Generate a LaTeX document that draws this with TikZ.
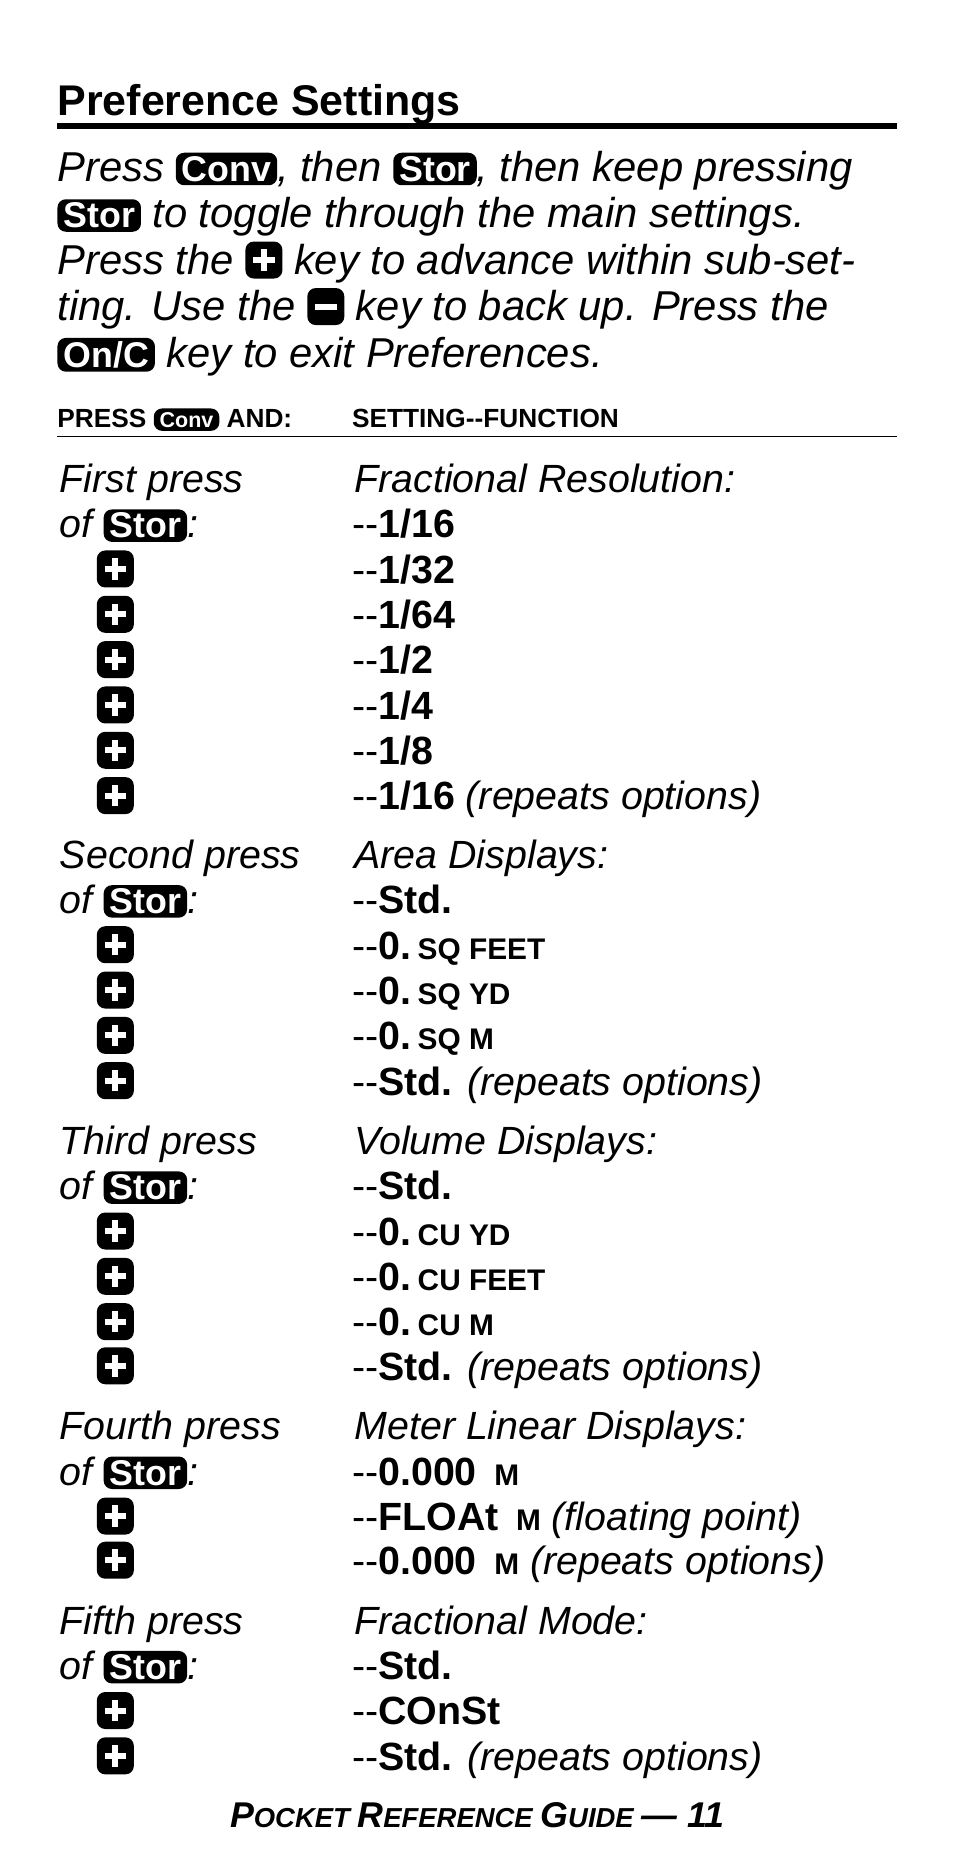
\documentclass[tikz,border=0pt]{standalone}
\usepackage{fontspec}
\setmainfont{Liberation Sans}
\usetikzlibrary{positioning}

\newcommand{\fs}[1]{\fontsize{#1}{#1}\selectfont}
% inline keys
\newcommand{\keycap}[2][30]{\tikz[baseline=(k.base)]\node[fill=black, text=white, rounded corners=7pt, inner xsep=5pt, inner ysep=3pt, font=\fs{#1}\bfseries\upshape] (k) {#2};}
\newcommand{\pluskey}{\tikz[baseline=-4pt]{\node[fill=black, rounded corners=7pt, minimum size=31pt, inner sep=0pt] (p) at (0,8pt) {};
  \draw[white, line width=5pt] ([xshift=-9pt]p.center) -- ([xshift=9pt]p.center) ([yshift=-9pt]p.center) -- ([yshift=9pt]p.center);}}
\newcommand{\minuskey}{\tikz[baseline=-4pt]{\node[fill=black, rounded corners=7pt, minimum size=31pt, inner sep=0pt] (m) at (0,8pt) {};
  \draw[white, line width=5pt] ([xshift=-9.5pt]m.center) -- ([xshift=9.5pt]m.center);}}
\newcommand{\unit}[1]{\,{\fs{25}#1}}
\newcommand{\dd}{-{}-}
\newcommand{\rep}{ {\itshape\mdseries (repeats options)}}

\begin{document}
\begin{tikzpicture}[x=1pt, y=1pt,
    txt/.style={anchor=base west, inner sep=0pt, font=\fs{33}},
    body/.style={anchor=base west, inner sep=0pt, font=\fs{35}\itshape, align=left}]
  \useasboundingbox (0,0) rectangle (800,-1561);

  % heading
  \node[anchor=base west, inner sep=0pt, font=\fs{36}\bfseries] (title) at (48,-97) {Preference Settings};
  \draw[line width=5pt] (48,-106) -- (752,-106);

  \node[body] (p1) at (48,-152) {Press \keycap{Conv}, then \keycap{Stor}, then keep pressing};
  \node[body] (p2) at (48,-191) {\keycap{Stor} to toggle through the main settings.};
  \node[body] (p3) at (48,-230) {Press the \pluskey\ key to advance within sub-set-};
  \node[body] (p4) at (48,-269) {ting. Use the \minuskey\ key to back up. Press the};
  \node[body] (p5) at (48,-308) {\keycap{On/C} key to exit Preferences.};

  \node[anchor=base west, inner sep=0pt, font=\fs{22}\bfseries] (hl) at (48,-358) {PRESS \keycap[18]{Conv} AND:};
  \node[anchor=base west, inner sep=0pt, font=\fs{22}\bfseries] (hr) at (295,-358) {SETTING\dd FUNCTION};
  \draw[line width=1.5pt] (48,-366) -- (752,-366);

  % first press
  \node[txt, font=\fs{33}\itshape] (a0) at (50,-413) {First press};
  \node[txt, font=\fs{33}\itshape] (a1) at (50,-451) {of \keycap{Stor}:};
  \foreach \i/\y in {2/-489,3/-527,4/-565,5/-603,6/-641,7/-679}
    \node[txt] (ak\i) at (81,\y) {\pluskey};
  \node[txt, font=\fs{33}\itshape] (b0) at (297,-413) {Fractional Resolution:};
  \node[txt] (b1) at (295,-451) {\dd\textbf{1/16}};
  \node[txt] (b2) at (295,-489) {\dd\textbf{1/32}};
  \node[txt] (b3) at (295,-527) {\dd\textbf{1/64}};
  \node[txt] (b4) at (295,-565) {\dd\textbf{1/2}};
  \node[txt] (b5) at (295,-603) {\dd\textbf{1/4}};
  \node[txt] (b6) at (295,-641) {\dd\textbf{1/8}};
  \node[txt] (b7) at (295,-679) {\dd\textbf{1/16}\rep};

  % second press
  \node[txt, font=\fs{33}\itshape] (c0) at (50,-728) {Second press};
  \node[txt, font=\fs{33}\itshape] (c1) at (50,-766) {of \keycap{Stor}:};
  \foreach \i/\y in {2/-804,3/-842,4/-880,5/-918}
    \node[txt] (ck\i) at (81,\y) {\pluskey};
  \node[txt, font=\fs{33}\itshape] (d0) at (297,-728) {Area Displays:};
  \node[txt] (d1) at (295,-766) {\dd\textbf{Std.}};
  \node[txt] (d2) at (295,-804) {\dd\textbf{0.\unit{SQ FEET}}};
  \node[txt] (d3) at (295,-842) {\dd\textbf{0.\unit{SQ YD}}};
  \node[txt] (d4) at (295,-880) {\dd\textbf{0.\unit{SQ M}}};
  \node[txt] (d5) at (295,-918) {\dd\textbf{Std.}\rep};

  % third press
  \node[txt, font=\fs{33}\itshape] (e0) at (50,-968) {Third press};
  \node[txt, font=\fs{33}\itshape] (e1) at (50,-1006) {of \keycap{Stor}:};
  \foreach \i/\y in {2/-1044,3/-1082,4/-1120,5/-1157}
    \node[txt] (ek\i) at (81,\y) {\pluskey};
  \node[txt, font=\fs{33}\itshape] (f0) at (297,-968) {Volume Displays:};
  \node[txt] (f1) at (295,-1006) {\dd\textbf{Std.}};
  \node[txt] (f2) at (295,-1044) {\dd\textbf{0.\unit{CU YD}}};
  \node[txt] (f3) at (295,-1082) {\dd\textbf{0.\unit{CU FEET}}};
  \node[txt] (f4) at (295,-1120) {\dd\textbf{0.\unit{CU M}}};
  \node[txt] (f5) at (295,-1157) {\dd\textbf{Std.}\rep};

  % fourth press
  \node[txt, font=\fs{33}\itshape] (g0) at (50,-1207) {Fourth press};
  \node[txt, font=\fs{33}\itshape] (g1) at (50,-1245) {of \keycap{Stor}:};
  \foreach \i/\y in {2/-1283,3/-1320}
    \node[txt] (gk\i) at (81,\y) {\pluskey};
  \node[txt, font=\fs{33}\itshape] (h0) at (297,-1207) {Meter Linear Displays:};
  \node[txt] (h1) at (295,-1245) {\dd\textbf{0.000\ \unit{M}}};
  \node[txt] (h2) at (295,-1283) {\dd\textbf{FLOAt\ \unit{M}} {\itshape(floating point)}};
  \node[txt] (h3) at (295,-1320) {\dd\textbf{0.000\ \unit{M}}\rep};

  % fifth press
  \node[txt, font=\fs{33}\itshape] (i0) at (50,-1370) {Fifth press};
  \node[txt, font=\fs{33}\itshape] (i1) at (50,-1408) {of \keycap{Stor}:};
  \foreach \i/\y in {2/-1446,3/-1484}
    \node[txt] (ik\i) at (81,\y) {\pluskey};
  \node[txt, font=\fs{33}\itshape] (j0) at (297,-1370) {Fractional Mode:};
  \node[txt] (j1) at (295,-1408) {\dd\textbf{Std.}};
  \node[txt] (j2) at (295,-1446) {\dd\textbf{COnSt}};
  \node[txt] (j3) at (295,-1484) {\dd\textbf{Std.}\rep};

  % footer
  \node[anchor=base, inner sep=0pt, font=\fs{23}\bfseries\itshape] (foot) at (400,-1532)
    {{\fs{30}P}OCKET {\fs{30}R}EFERENCE {\fs{30}G}UIDE {\fs{30}— 11}};
\end{tikzpicture}
\end{document}
